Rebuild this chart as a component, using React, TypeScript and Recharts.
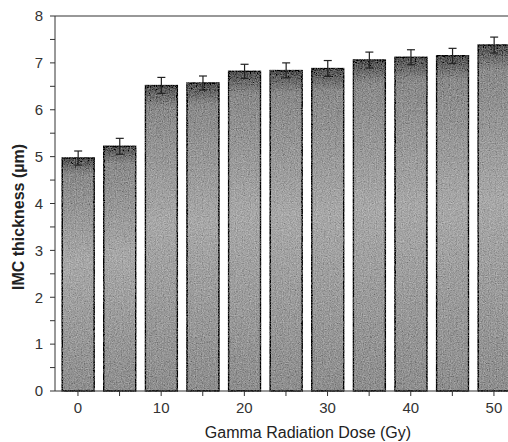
import React from 'react';
import { BarChart, Bar, XAxis, YAxis, ErrorBar, ReferenceLine } from 'recharts';

const doses = [0, 5, 10, 15, 20, 25, 30, 35, 40, 45, 50];
const thickness = [4.97, 5.22, 6.52, 6.57, 6.82, 6.84, 6.88, 7.06, 7.12, 7.15, 7.38];
const errors = [0.15, 0.17, 0.17, 0.15, 0.15, 0.16, 0.17, 0.17, 0.16, 0.16, 0.17];
const xTicks = [0, 5, 10, 15, 20, 25, 30, 35, 40, 45, 50];
const yTicks = [0, 0.5, 1, 1.5, 2, 2.5, 3, 3.5, 4, 4.5, 5, 5.5, 6, 6.5, 7, 7.5, 8];
const xTitle = 'Gamma Radiation Dose (Gy)';
const yTitle = 'IMC thickness (µm)';

const data = doses.map((d, i) => ({ dose: d, value: thickness[i], err: errors[i] }));

const FONT = '"Liberation Sans", Arial, sans-serif';

export default function App() {
  return (
    <div style={{ position: 'absolute', left: 0, top: 0, width: 508, height: 442, overflow: 'hidden', background: '#fff' }}>
      <BarChart width={530} height={442} data={data} margin={{ top: 16, right: 15, bottom: 6, left: 0 }}>
        <defs>
          <linearGradient id="barGrad" x1="0" y1="0" x2="0" y2="1">
            <stop offset="0%" stopColor="#505050" />
            <stop offset="7%" stopColor="#8a8a8a" />
            <stop offset="45%" stopColor="#a8a8a8" />
            <stop offset="100%" stopColor="#8e8e8e" />
          </linearGradient>
          <filter id="grain" x="-10%" y="-2%" width="120%" height="104%">
            <feTurbulence type="fractalNoise" baseFrequency="0.85" numOctaves="2" seed="3" result="noise" />
            <feColorMatrix
              in="noise"
              type="matrix"
              values="0.33 0.33 0.33 0 0  0.33 0.33 0.33 0 0  0.33 0.33 0.33 0 0  0 0 0 0 1"
              result="gray"
            />
            <feComposite in="SourceGraphic" in2="gray" operator="arithmetic" k1="0" k2="1" k3="0.7" k4="-0.35" result="mixed" />
            <feComposite in="mixed" in2="SourceGraphic" operator="in" />
          </filter>
        </defs>
        <XAxis
          dataKey="dose"
          type="number"
          domain={[-2.76, 52.53]}
          ticks={xTicks}
          interval={0}
          allowDataOverflow
          height={45}
          tickSize={5}
          tickMargin={6}
          tickFormatter={(v: number) => (v % 10 === 0 ? String(v) : '')}
          tick={{ fill: '#333', fontSize: 15, fontFamily: FONT }}
          stroke="#333"
          label={{
            content: () => (
              <text x={308} y={432} textAnchor="middle" dominantBaseline="central" fill="#222" fontSize={16} fontFamily={FONT}>
                {xTitle}
              </text>
            ),
          }}
        />
        <YAxis
          type="number"
          domain={[0, 8]}
          ticks={yTicks}
          interval={0}
          width={55}
          tickSize={5}
          tickMargin={7}
          tickFormatter={(v: number) => (Number.isInteger(v) ? String(v) : '')}
          tick={{ fill: '#333', fontSize: 15, fontFamily: FONT }}
          stroke="#333"
          label={{
            content: () => (
              <text
                x={18}
                y={217}
                transform="rotate(-90 18 217)"
                textAnchor="middle"
                dominantBaseline="central"
                fill="#222"
                fontSize={16}
                fontWeight="bold"
                fontFamily={FONT}
              >
                {yTitle}
              </text>
            ),
          }}
        />
        <ReferenceLine y={8} stroke="#333" strokeWidth={1.2} />
        <Bar
          dataKey="value"
          barSize={32}
          fill="url(#barGrad)"
          stroke="#222"
          strokeWidth={1.5}
          filter="url(#grain)"
          isAnimationActive={false}
        >
          <ErrorBar dataKey="err" width={4} stroke="#222" strokeWidth={1.2} direction="y" />
        </Bar>
      </BarChart>
    </div>
  );
}
